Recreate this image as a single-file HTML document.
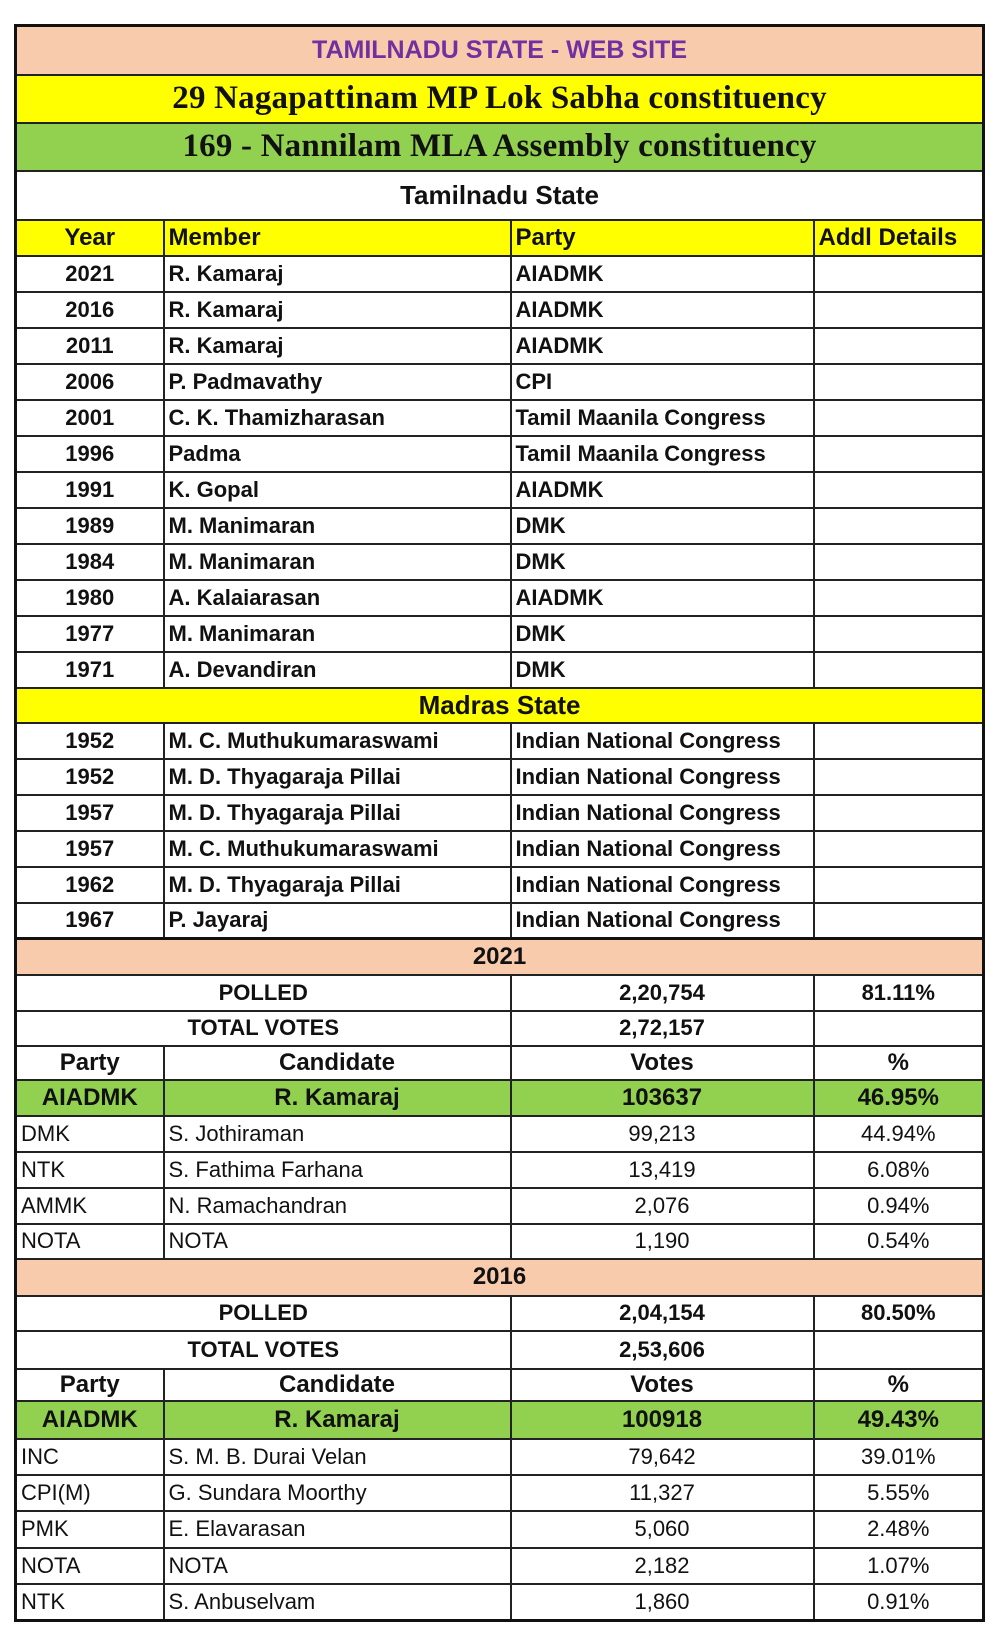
<!DOCTYPE html>
<html><head><meta charset="utf-8"><style>
body{margin:0;background:#fff;width:1003px;height:1644px;position:relative;overflow:hidden}
table{position:absolute;left:14px;top:24px;width:968px;border-collapse:collapse;table-layout:fixed;border:3px solid #111;font-family:"Liberation Sans Narrow","Liberation Sans",sans-serif;font-size:22px;color:#111}
td{border:2px solid #222;padding:0 4px;white-space:nowrap;overflow:hidden;font-weight:bold}
.c{text-align:center}
.y{background:#ffff00}.g{background:#92d050}.p{background:#f8cbad}
.n td{font-weight:normal}
.s{font-family:"Liberation Serif",serif;font-size:33px;letter-spacing:0.2px}
</style></head><body>
<table>
<colgroup><col style="width:148px"><col style="width:347px"><col style="width:303px"><col style="width:170px"></colgroup>
<tr class="p" style="height:49px"><td colspan="4" class="c" style="color:#7030a0;font-size:25px">TAMILNADU STATE - WEB SITE</td></tr>
<tr class="y" style="height:48px"><td colspan="4" class="c s">29 Nagapattinam MP Lok Sabha constituency</td></tr>
<tr class="g" style="height:48px"><td colspan="4" class="c s">169 - Nannilam MLA Assembly constituency</td></tr>
<tr style="height:49px"><td colspan="4" class="c" style="font-family:'Liberation Sans',sans-serif;font-size:26px">Tamilnadu State</td></tr>
<tr class="y" style="height:36px;font-size:24px"><td class="c">Year</td><td>Member</td><td>Party</td><td>Addl Details</td></tr>
<tr style="height:36px"><td class="c">2021</td><td>R. Kamaraj</td><td>AIADMK</td><td></td></tr>
<tr style="height:36px"><td class="c">2016</td><td>R. Kamaraj</td><td>AIADMK</td><td></td></tr>
<tr style="height:36px"><td class="c">2011</td><td>R. Kamaraj</td><td>AIADMK</td><td></td></tr>
<tr style="height:36px"><td class="c">2006</td><td>P. Padmavathy</td><td>CPI</td><td></td></tr>
<tr style="height:36px"><td class="c">2001</td><td>C. K. Thamizharasan</td><td>Tamil Maanila Congress</td><td></td></tr>
<tr style="height:36px"><td class="c">1996</td><td>Padma</td><td>Tamil Maanila Congress</td><td></td></tr>
<tr style="height:36px"><td class="c">1991</td><td>K. Gopal</td><td>AIADMK</td><td></td></tr>
<tr style="height:36px"><td class="c">1989</td><td>M. Manimaran</td><td>DMK</td><td></td></tr>
<tr style="height:36px"><td class="c">1984</td><td>M. Manimaran</td><td>DMK</td><td></td></tr>
<tr style="height:36px"><td class="c">1980</td><td>A. Kalaiarasan</td><td>AIADMK</td><td></td></tr>
<tr style="height:36px"><td class="c">1977</td><td>M. Manimaran</td><td>DMK</td><td></td></tr>
<tr style="height:36px"><td class="c">1971</td><td>A. Devandiran</td><td>DMK</td><td></td></tr>
<tr class="y" style="height:35px"><td colspan="4" class="c" style="font-family:'Liberation Sans',sans-serif;font-size:26px">Madras State</td></tr>
<tr style="height:36px"><td class="c">1952</td><td>M. C. Muthukumaraswami</td><td>Indian National Congress</td><td></td></tr>
<tr style="height:36px"><td class="c">1952</td><td>M. D. Thyagaraja Pillai</td><td>Indian National Congress</td><td></td></tr>
<tr style="height:36px"><td class="c">1957</td><td>M. D. Thyagaraja Pillai</td><td>Indian National Congress</td><td></td></tr>
<tr style="height:36px"><td class="c">1957</td><td>M. C. Muthukumaraswami</td><td>Indian National Congress</td><td></td></tr>
<tr style="height:36px"><td class="c">1962</td><td>M. D. Thyagaraja Pillai</td><td>Indian National Congress</td><td></td></tr>
<tr style="height:36px"><td class="c">1967</td><td>P. Jayaraj</td><td>Indian National Congress</td><td></td></tr>
<tr class="p" style="height:36px;font-size:24px"><td colspan="4" class="c" style="border-top:3px solid #111">2021</td></tr>
<tr style="height:36px"><td colspan="2" class="c">POLLED</td><td class="c">2,20,754</td><td class="c">81.11%</td></tr>
<tr style="height:35px"><td colspan="2" class="c">TOTAL VOTES</td><td class="c">2,72,157</td><td></td></tr>
<tr style="height:34px;font-size:24px"><td class="c">Party</td><td class="c">Candidate</td><td class="c">Votes</td><td class="c">%</td></tr>
<tr class="g" style="height:36px;font-size:24px"><td class="c">AIADMK</td><td class="c">R. Kamaraj</td><td class="c">103637</td><td class="c">46.95%</td></tr>
<tr class="n" style="height:36px"><td>DMK</td><td>S. Jothiraman</td><td class="c">99,213</td><td class="c">44.94%</td></tr>
<tr class="n" style="height:36px"><td>NTK</td><td>S. Fathima Farhana</td><td class="c">13,419</td><td class="c">6.08%</td></tr>
<tr class="n" style="height:36px"><td>AMMK</td><td>N. Ramachandran</td><td class="c">2,076</td><td class="c">0.94%</td></tr>
<tr class="n" style="height:35px"><td>NOTA</td><td>NOTA</td><td class="c">1,190</td><td class="c">0.54%</td></tr>
<tr class="p" style="height:37px;font-size:24px"><td colspan="4" class="c">2016</td></tr>
<tr style="height:35px"><td colspan="2" class="c">POLLED</td><td class="c">2,04,154</td><td class="c">80.50%</td></tr>
<tr style="height:38px"><td colspan="2" class="c">TOTAL VOTES</td><td class="c">2,53,606</td><td></td></tr>
<tr style="height:32px;font-size:24px"><td class="c">Party</td><td class="c">Candidate</td><td class="c">Votes</td><td class="c">%</td></tr>
<tr class="g" style="height:38px;font-size:24px"><td class="c">AIADMK</td><td class="c">R. Kamaraj</td><td class="c">100918</td><td class="c">49.43%</td></tr>
<tr class="n" style="height:36px"><td>INC</td><td>S. M. B. Durai Velan</td><td class="c">79,642</td><td class="c">39.01%</td></tr>
<tr class="n" style="height:36px"><td>CPI(M)</td><td>G. Sundara Moorthy</td><td class="c">11,327</td><td class="c">5.55%</td></tr>
<tr class="n" style="height:37px"><td>PMK</td><td>E. Elavarasan</td><td class="c">5,060</td><td class="c">2.48%</td></tr>
<tr class="n" style="height:36px"><td>NOTA</td><td>NOTA</td><td class="c">2,182</td><td class="c">1.07%</td></tr>
<tr class="n" style="height:37px"><td>NTK</td><td>S. Anbuselvam</td><td class="c">1,860</td><td class="c">0.91%</td></tr>
</table>
</body></html>
